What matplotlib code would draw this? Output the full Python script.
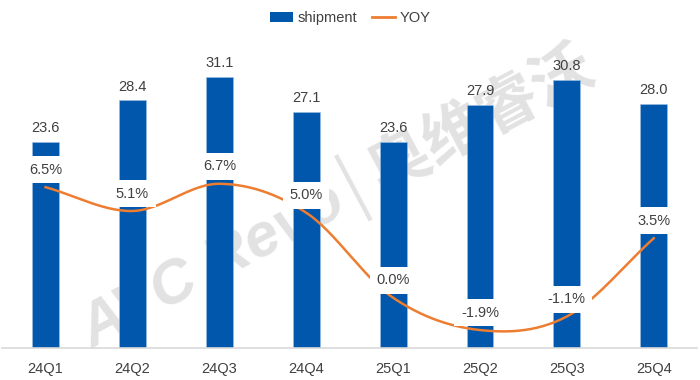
import numpy as np
import matplotlib
matplotlib.use("Agg")
import matplotlib.pyplot as plt
from matplotlib.patches import Patch
from matplotlib.lines import Line2D

plt.rcParams['font.family'] = ['Liberation Sans', 'Noto Sans CJK SC', 'DejaVu Sans']

quarters = ["24Q1", "24Q2", "24Q3", "24Q4", "25Q1", "25Q2", "25Q3", "25Q4"]
shipment = [23.6, 28.4, 31.1, 27.1, 23.6, 27.9, 30.8, 28.0]
yoy = [6.5, 5.1, 6.7, 5.0, 0.0, -1.9, -1.1, 3.5]

BAR_COLOR = "#0057ab"
LINE_COLOR = "#ed7d31"
TEXT_COLOR = "#404040"


def catmull_rom(x, y, n=30):
    # smooth curve through the points, like the spreadsheet "smoothed line"
    x = np.asarray(x, float)
    y = np.asarray(y, float)
    px = np.concatenate([[2 * x[0] - x[1]], x, [2 * x[-1] - x[-2]]])
    py = np.concatenate([[2 * y[0] - y[1]], y, [2 * y[-1] - y[-2]]])
    xs, ys = [], []
    t = np.linspace(0, 1, n)
    for i in range(1, len(px) - 2):
        p0, p1, p2, p3 = px[i - 1], px[i], px[i + 1], px[i + 2]
        q0, q1, q2, q3 = py[i - 1], py[i], py[i + 1], py[i + 2]
        for a, b, c, d, out in ((p0, p1, p2, p3, xs), (q0, q1, q2, q3, ys)):
            out.extend(0.5 * (2 * b + (-a + c) * t + (2 * a - 5 * b + 4 * c - d) * t ** 2
                              + (-a + 3 * b - 3 * c + d) * t ** 3))
    return np.array(xs), np.array(ys)


fig = plt.figure(figsize=(7, 3.8), dpi=100)
ax = fig.add_axes([0.003, 0.084, 0.993, 0.803])
x = np.arange(len(quarters))

# watermark, behind everything
fig.text(0.48, 0.48, "AVC Revo│奥维睿沃", fontsize=44, fontweight="bold", style="italic",
         color="#e2e2e2", rotation=28, ha="center", va="center", zorder=-5)

ax.bar(x, shipment, width=0.31, color=BAR_COLOR, edgecolor="#9dc3e6", linewidth=0.4, zorder=2)
for xi, v in zip(x, shipment):
    ax.annotate(f"{v:.1f}", (xi, v), xytext=(0, 5), textcoords="offset points",
                ha="center", va="bottom", fontsize=10.5, color=TEXT_COLOR)

ax.set_xlim(-0.5, len(quarters) - 0.5)
ax.set_ylim(0, 35)
ax.set_yticks([])
ax.set_xticks(x)
ax.set_xticklabels(quarters, fontsize=10.5, color=TEXT_COLOR)
ax.tick_params(axis="x", length=0, pad=10)
ax.patch.set_alpha(0)
for s in ["top", "right", "left"]:
    ax.spines[s].set_visible(False)
ax.spines["bottom"].set_color("#d9d9d9")
ax.spines["bottom"].set_linewidth(1.2)

ax2 = ax.twinx()
ax2.set_ylim(-2.96, 14.98)
ax2.axis("off")
sx, sy = catmull_rom(x, yoy)
ax2.plot(sx, sy, color=LINE_COLOR, linewidth=1.8, zorder=3)
for xi, v in zip(x, yoy):
    ax2.annotate(f"{v:.1f}%", (xi, v), xytext=(0, 12.5), textcoords="offset points",
                 ha="center", va="center", fontsize=10.5, color=TEXT_COLOR, zorder=4,
                 bbox=dict(boxstyle="square,pad=0.45", facecolor="white", edgecolor="none"))

handles = [Patch(facecolor=BAR_COLOR, label="shipment"),
           Line2D([0], [0], color=LINE_COLOR, linewidth=2, label="YOY")]
fig.legend(handles=handles, loc="center", bbox_to_anchor=(0.5, 0.952), ncol=2, frameon=False,
           fontsize=10.5, handlelength=1.6, handletextpad=0.3, columnspacing=1.0,
           labelcolor=TEXT_COLOR)

fig.savefig("out.png", dpi=100)
